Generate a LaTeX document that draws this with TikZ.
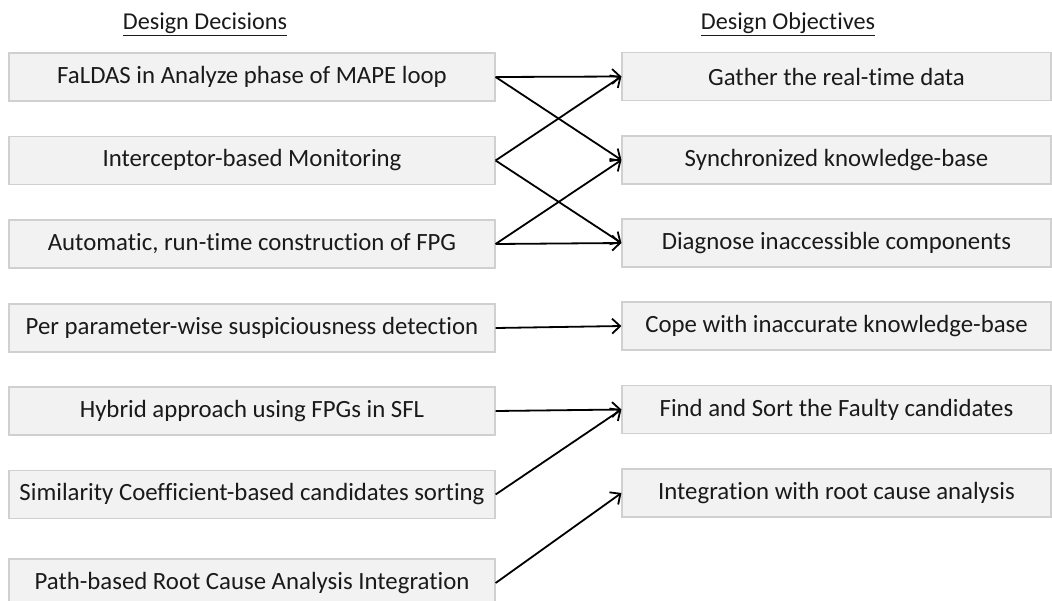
\documentclass[tikz,border=0pt]{standalone}
\usepackage{fontspec}
\setmainfont{Carlito}[Ligatures={NoCommon}]
\usetikzlibrary{arrows.meta}
\definecolor{boxfill}{HTML}{F2F2F2}
\definecolor{boxline}{HTML}{D0D0D0}
\definecolor{ink}{HTML}{1A1A1A}
\tikzset{
  decision/.style={draw=boxline, fill=boxfill, line width=1.2pt, minimum width=486pt,
    minimum height=48pt, inner sep=0pt, text=ink, font=\fontsize{24.8}{28}\selectfont},
  objective/.style={draw=boxline, fill=boxfill, line width=1.2pt, minimum width=429pt,
    minimum height=48pt, inner sep=0pt, text=ink, font=\fontsize{24.8}{28}\selectfont},
  header/.style={text=ink, font=\fontsize{24.2}{28}\selectfont, inner sep=0pt},
  link/.style={draw=black, line width=1.8pt, -{Straight Barb[length=8pt,width=15pt]}}
}
\begin{document}
\begin{tikzpicture}[x=1pt,y=-1pt]
\useasboundingbox (0,0) rectangle (1052,600);
% column headings
\node[header] (hdec) at (205,24) {\underline{Design Decisions}};
\node[header] (hobj) at (788,24) {\underline{Design Objectives}};
% design decisions
\node[decision] (d1) at (252,77)    {FaLDAS in Analyze phase of MAPE loop};
\node[decision] (d2) at (252,160.5) {Interceptor-based Monitoring};
\node[decision] (d3) at (252,244)   {Automatic, run-time construction of FPG};
\node[decision] (d4) at (252,328)   {Per parameter-wise suspiciousness detection};
\node[decision] (d5) at (252,411)   {Hybrid approach using FPGs in SFL};
\node[decision] (d6) at (252,494.5) {Similarity Coefficient-based candidates sorting};
\node[decision] (d7) at (252,583)   {Path-based Root Cause Analysis Integration};
% design objectives
\node[objective] (o1) at (836.5,76.5)  {Gather the real-time data};
\node[objective] (o2) at (836.5,160)   {Synchronized knowledge-base};
\node[objective] (o3) at (836.5,243)   {Diagnose inaccessible components};
\node[objective] (o4) at (836.5,326)   {Cope with inaccurate knowledge-base};
\node[objective] (o5) at (836.5,409.5) {Find and Sort the Faulty candidates};
\node[objective] (o6) at (836.5,493)   {Integration with root cause analysis};
% links
\draw[link] (d1.east) -- (o1.west);
\draw[link] (d1.east) -- (o2.west);
\draw[link] (d2.east) -- (o1.west);
\draw[link] (d2.east) -- (o3.west);
\draw[link] (d3.east) -- (o2.west);
\draw[link] (d3.east) -- (o3.west);
\draw[link] (d4.east) -- (o4.west);
\draw[link] (d5.east) -- (o5.west);
\draw[link] (d6.east) -- (o5.west);
\draw[link] (d7.east) -- (o6.west);
\end{tikzpicture}
\end{document}
